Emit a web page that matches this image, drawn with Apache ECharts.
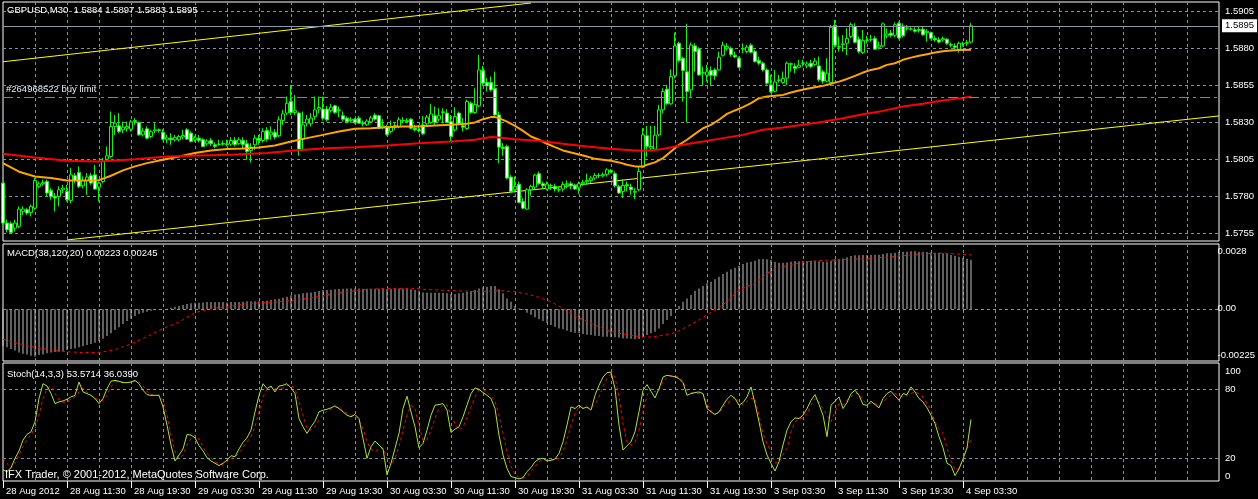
<!DOCTYPE html>
<html><head><meta charset="utf-8">
<script src="https://cdn.jsdelivr.net/npm/echarts@6/dist/echarts.min.js"></script>
<style>html,body{margin:0;padding:0;background:#000;}#c{width:1258px;height:499px;}</style>
</head><body><div id="c"></div>
<script>
// ---------- data ----------
const tickLabels = ['28 Aug 2012','28 Aug 11:30','28 Aug 19:30','29 Aug 03:30','29 Aug 11:30','29 Aug 19:30','30 Aug 03:30','30 Aug 11:30','30 Aug 19:30','31 Aug 03:30','31 Aug 11:30','31 Aug 19:30','3 Sep 03:30','3 Sep 11:30','3 Sep 19:30','4 Sep 03:30'];
const priceTicks = {min: 1.5755, max: 1.5905, step: 0.0025};
const headerText = 'GBPUSD,M30  1.5884 1.5897 1.5883 1.5895';
const macdText = 'MACD(38,120,20) 0.00223 0.00245';
const stochText = 'Stoch(14,3,3) 53.5714 36.0390';
const copyrightText = 'IFX Trader, \u00a9 2001-2012, MetaQuotes Software Corp.';
const orderText = '#264968522 buy limit';
const buyLimit = 1.5847;
const bidPrice = 1.5895;
const macdLabelValues = [-0.00225, 0, 0.0028];
const macdLabelTexts = ['-0.00225', '0.00', '0.0028'];

// [open, high, low, close]
const ohlc = [
[1.57887,1.57891,1.57606,1.57617],[1.57617,1.57640,1.57554,1.57572],[1.57613,1.57628,1.57545,1.57554],[1.57583,1.57640,1.57561,1.57617],[1.57595,1.57730,1.57583,1.57711],
[1.57696,1.57730,1.57673,1.57711],[1.57707,1.57718,1.57673,1.57685],[1.57689,1.57741,1.57662,1.57730],[1.57718,1.57921,1.57707,1.57905],[1.57865,1.57898,1.57853,1.57882],
[1.57882,1.57910,1.57869,1.57891],[1.57898,1.57910,1.57797,1.57820],[1.57838,1.57853,1.57775,1.57797],[1.57797,1.57820,1.57696,1.57786],[1.57797,1.57865,1.57730,1.57842],
[1.57842,1.57876,1.57820,1.57853],[1.57831,1.57876,1.57763,1.57775],[1.57770,1.57988,1.57752,1.57943],[1.57937,1.57955,1.57887,1.57905],[1.57959,1.58000,1.57853,1.57865],
[1.57869,1.57932,1.57853,1.57905],[1.57905,1.57955,1.57808,1.57928],[1.57937,1.57955,1.57876,1.57887],[1.57943,1.58011,1.57842,1.57847],[1.57860,1.57898,1.57763,1.57887],
[1.57898,1.58056,1.57887,1.58033],[1.58049,1.58135,1.58033,1.58072],[1.58067,1.58371,1.58056,1.58270],[1.58270,1.58348,1.58213,1.58292],[1.58274,1.58360,1.58225,1.58236],
[1.58247,1.58303,1.58225,1.58265],[1.58258,1.58303,1.58236,1.58270],[1.58252,1.58315,1.58236,1.58301],[1.58303,1.58326,1.58281,1.58310],[1.58297,1.58303,1.58207,1.58213],
[1.58213,1.58258,1.58202,1.58238],[1.58254,1.58270,1.58184,1.58191],[1.58202,1.58247,1.58191,1.58234],[1.58240,1.58292,1.58225,1.58247],[1.58247,1.58256,1.58229,1.58243],
[1.58231,1.58252,1.58175,1.58184],[1.58180,1.58213,1.58157,1.58193],[1.58191,1.58225,1.58146,1.58180],[1.58180,1.58213,1.58168,1.58195],[1.58180,1.58213,1.58168,1.58202],
[1.58198,1.58247,1.58184,1.58209],[1.58247,1.58258,1.58180,1.58184],[1.58225,1.58236,1.58162,1.58168],[1.58180,1.58207,1.58166,1.58193],[1.58191,1.58213,1.58162,1.58175],
[1.58180,1.58191,1.58130,1.58135],[1.58153,1.58184,1.58139,1.58171],[1.58175,1.58191,1.58139,1.58153],[1.58146,1.58162,1.58123,1.58135],[1.58148,1.58180,1.58139,1.58150],
[1.58150,1.58175,1.58139,1.58155],[1.58153,1.58180,1.58135,1.58148],[1.58150,1.58198,1.58139,1.58175],[1.58175,1.58198,1.58135,1.58148],[1.58153,1.58198,1.58146,1.58180],
[1.58175,1.58198,1.58123,1.58148],[1.58153,1.58180,1.58045,1.58101],[1.58108,1.58157,1.58027,1.58130],[1.58146,1.58213,1.58112,1.58191],[1.58191,1.58213,1.58146,1.58175],
[1.58175,1.58258,1.58162,1.58236],[1.58243,1.58265,1.58168,1.58184],[1.58213,1.58270,1.58180,1.58231],[1.58229,1.58252,1.58184,1.58198],[1.58207,1.58337,1.58198,1.58315],
[1.58310,1.58382,1.58281,1.58355],[1.58360,1.58472,1.58348,1.58427],[1.58438,1.58551,1.58348,1.58364],[1.58364,1.58483,1.58348,1.58378],[1.58360,1.58371,1.58072,1.58117],
[1.58184,1.58371,1.58112,1.58281],[1.58292,1.58348,1.58270,1.58319],[1.58288,1.58360,1.58270,1.58326],[1.58337,1.58472,1.58315,1.58382],[1.58387,1.58472,1.58360,1.58398],
[1.58387,1.58472,1.58310,1.58326],[1.58387,1.58409,1.58303,1.58315],[1.58378,1.58423,1.58364,1.58400],[1.58409,1.58416,1.58355,1.58364],[1.58378,1.58405,1.58333,1.58382],
[1.58342,1.58371,1.58303,1.58319],[1.58326,1.58337,1.58292,1.58301],[1.58310,1.58333,1.58297,1.58319],[1.58319,1.58326,1.58288,1.58297],[1.58326,1.58342,1.58288,1.58292],
[1.58292,1.58310,1.58270,1.58288],[1.58281,1.58319,1.58274,1.58306],[1.58301,1.58342,1.58292,1.58328],[1.58346,1.58360,1.58310,1.58319],[1.58342,1.58348,1.58252,1.58258],
[1.58265,1.58319,1.58252,1.58274],[1.58270,1.58281,1.58207,1.58216],[1.58236,1.58310,1.58225,1.58265],[1.58265,1.58297,1.58247,1.58276],[1.58270,1.58333,1.58258,1.58315],
[1.58310,1.58333,1.58292,1.58306],[1.58303,1.58326,1.58292,1.58310],[1.58319,1.58326,1.58252,1.58258],[1.58258,1.58281,1.58236,1.58247],[1.58247,1.58281,1.58229,1.58240],
[1.58281,1.58342,1.58213,1.58220],[1.58288,1.58348,1.58274,1.58333],[1.58297,1.58423,1.58288,1.58355],[1.58342,1.58405,1.58281,1.58297],[1.58319,1.58393,1.58303,1.58342],
[1.58364,1.58393,1.58292,1.58369],[1.58360,1.58387,1.58292,1.58297],[1.58303,1.58348,1.58168,1.58202],[1.58247,1.58400,1.58236,1.58337],[1.58360,1.58371,1.58281,1.58288],
[1.58274,1.58326,1.58236,1.58265],[1.58256,1.58450,1.58247,1.58438],[1.58427,1.58438,1.58355,1.58364],[1.58364,1.58528,1.58355,1.58418],[1.58409,1.58753,1.58400,1.58652],
[1.58648,1.58679,1.58544,1.58562],[1.58567,1.58596,1.58506,1.58544],[1.58567,1.58607,1.58506,1.58517],[1.58526,1.58641,1.58342,1.58348],[1.58348,1.58371,1.58022,1.58130],
[1.58130,1.58157,1.58072,1.58121],[1.58135,1.58146,1.57914,1.57921],[1.57928,1.57943,1.57820,1.57831],[1.57842,1.57932,1.57824,1.57865],[1.57880,1.57898,1.57752,1.57757],
[1.57763,1.57786,1.57712,1.57718],[1.57712,1.57853,1.57707,1.57842],[1.57842,1.57876,1.57802,1.57865],[1.57860,1.57950,1.57847,1.57941],[1.57950,1.57966,1.57876,1.57883],
[1.57883,1.57898,1.57847,1.57869],[1.57847,1.57898,1.57838,1.57880],[1.57871,1.57883,1.57842,1.57869],[1.57865,1.57883,1.57831,1.57847],[1.57842,1.57865,1.57824,1.57840],
[1.57847,1.57898,1.57831,1.57878],[1.57876,1.57905,1.57853,1.57883],[1.57883,1.57898,1.57847,1.57869],[1.57869,1.57883,1.57842,1.57847],[1.57860,1.57898,1.57815,1.57883],
[1.57883,1.57910,1.57869,1.57892],[1.57896,1.57950,1.57876,1.57905],[1.57905,1.57937,1.57887,1.57921],[1.57921,1.57955,1.57910,1.57939],[1.57939,1.57955,1.57921,1.57937],
[1.57937,1.57959,1.57928,1.57946],[1.57946,1.57988,1.57932,1.57977],[1.57973,1.57982,1.57955,1.57964],[1.57950,1.57966,1.57860,1.57869],[1.57865,1.57876,1.57815,1.57820],
[1.57831,1.57914,1.57786,1.57871],[1.57876,1.57898,1.57831,1.57869],[1.57860,1.57883,1.57808,1.57842],[1.57829,1.57853,1.57779,1.57826],[1.57842,1.58000,1.57831,1.57966],
[1.57995,1.58258,1.57988,1.58213],[1.58207,1.58274,1.58067,1.58135],[1.58123,1.58274,1.58108,1.58135],[1.58117,1.58274,1.58112,1.58211],[1.58213,1.58416,1.58202,1.58382],
[1.58382,1.58528,1.58360,1.58506],[1.58522,1.58551,1.58416,1.58423],[1.58423,1.58657,1.58416,1.58607],[1.58612,1.58904,1.58596,1.58814],[1.58832,1.58843,1.58702,1.58715],
[1.58731,1.58742,1.58438,1.58648],[1.58639,1.58963,1.58297,1.58506],[1.58517,1.58837,1.58468,1.58821],[1.58814,1.58832,1.58641,1.58776],[1.58792,1.58805,1.58612,1.58618],
[1.58630,1.58675,1.58544,1.58634],[1.58616,1.58686,1.58573,1.58639],[1.58648,1.58675,1.58544,1.58616],[1.58652,1.58663,1.58585,1.58612],[1.58652,1.58776,1.58648,1.58738],
[1.58751,1.58843,1.58742,1.58819],[1.58798,1.58832,1.58783,1.58810],[1.58798,1.58810,1.58742,1.58756],[1.58751,1.58776,1.58731,1.58740],[1.58731,1.58742,1.58663,1.58670],
[1.58792,1.58832,1.58765,1.58796],[1.58776,1.58821,1.58765,1.58805],[1.58819,1.58832,1.58765,1.58771],[1.58776,1.58787,1.58702,1.58708],[1.58715,1.58742,1.58686,1.58697],
[1.58697,1.58708,1.58641,1.58652],[1.58652,1.58663,1.58551,1.58562],[1.58551,1.58618,1.58495,1.58504],[1.58508,1.58652,1.58499,1.58571],[1.58580,1.58618,1.58567,1.58585],
[1.58567,1.58641,1.58558,1.58594],[1.58596,1.58708,1.58551,1.58697],[1.58693,1.58702,1.58641,1.58690],[1.58675,1.58697,1.58630,1.58661],[1.58670,1.58720,1.58663,1.58684],
[1.58697,1.58720,1.58675,1.58699],[1.58679,1.58708,1.58663,1.58693],[1.58697,1.58720,1.58663,1.58675],[1.58688,1.58731,1.58679,1.58711],[1.58679,1.58742,1.58573,1.58585],
[1.58639,1.58652,1.58558,1.58576],[1.58576,1.58731,1.58567,1.58630],[1.58567,1.58956,1.58544,1.58940],[1.58954,1.58990,1.58805,1.58819],[1.58805,1.58877,1.58776,1.58810],
[1.58823,1.58888,1.58776,1.58828],[1.58832,1.58933,1.58753,1.58864],[1.58877,1.58972,1.58866,1.58958],[1.58945,1.58967,1.58832,1.58839],[1.58859,1.58877,1.58765,1.58776],
[1.58769,1.58922,1.58760,1.58850],[1.58850,1.58882,1.58832,1.58855],[1.58855,1.58888,1.58843,1.58857],[1.58864,1.58882,1.58787,1.58792],[1.58805,1.58843,1.58792,1.58816],
[1.58814,1.58972,1.58805,1.58963],[1.58882,1.58933,1.58866,1.58895],[1.58900,1.58922,1.58873,1.58886],[1.58886,1.58972,1.58873,1.58958],[1.58967,1.58978,1.58859,1.58868],
[1.58949,1.58967,1.58873,1.58882],[1.58931,1.58956,1.58918,1.58936],[1.58927,1.58945,1.58918,1.58929],[1.58922,1.58940,1.58904,1.58913],[1.58918,1.58945,1.58904,1.58925],
[1.58927,1.58945,1.58882,1.58889],[1.58904,1.58927,1.58843,1.58913],[1.58904,1.58911,1.58859,1.58866],[1.58864,1.58882,1.58843,1.58855],[1.58855,1.58873,1.58832,1.58841],
[1.58855,1.58877,1.58843,1.58864],[1.58859,1.58866,1.58821,1.58832],[1.58823,1.58837,1.58805,1.58819],[1.58814,1.58832,1.58792,1.58805],[1.58792,1.58843,1.58769,1.58832],
[1.58828,1.58843,1.58810,1.58832],[1.58832,1.58855,1.58814,1.58837],[1.5884,1.5897,1.5883,1.5895]
];

// moving averages: [bar index, value]
const maFast = [[0,1.58022],[4,1.57964],[8,1.57932],[12,1.57921],[16,1.57905],[20,1.57905],[24,1.57907],[27,1.57937],[30,1.57973],[33,1.58000],[36,1.58022],[40,1.58045],[44,1.58067],[48,1.58090],[52,1.58108],[56,1.58117],[60,1.58121],[64,1.58128],[68,1.58141],[72,1.58168],[76,1.58191],[80,1.58213],[84,1.58236],[88,1.58254],[92,1.58258],[96,1.58265],[100,1.58270],[104,1.58270],[108,1.58276],[112,1.58281],[116,1.58288],[118,1.58297],[120,1.58319],[122,1.58333],[123,1.58333],[124,1.58326],[126,1.58303],[128,1.58274],[130,1.58240],[132,1.58202],[134,1.58180],[136,1.58153],[138,1.58130],[140,1.58108],[142,1.58094],[144,1.58081],[146,1.58067],[148,1.58051],[150,1.58045],[152,1.58038],[154,1.58027],[156,1.58011],[158,1.58000],[160,1.58000],[161,1.58011],[163,1.58027],[165,1.58056],[167,1.58101],[169,1.58146],[171,1.58180],[173,1.58220],[175,1.58258],[177,1.58281],[179,1.58315],[181,1.58355],[183,1.58378],[185,1.58400],[187,1.58427],[189,1.58461],[191,1.58472],[193,1.58477],[195,1.58483],[197,1.58499],[199,1.58513],[201,1.58524],[203,1.58535],[205,1.58544],[207,1.58558],[209,1.58573],[211,1.58591],[213,1.58612],[215,1.58634],[217,1.58652],[219,1.58663],[221,1.58686],[223,1.58697],[225,1.58720],[227,1.58735],[229,1.58747],[231,1.58758],[233,1.58769],[235,1.58778],[237,1.58783],[239,1.58787],[242,1.58789]];
const maSlow = [[0,1.58085],[8,1.58060],[16,1.58038],[24,1.58033],[33,1.58049],[41,1.58067],[49,1.58074],[57,1.58078],[62,1.58085],[66,1.58090],[72,1.58105],[79,1.58119],[81,1.58123],[88,1.58130],[96,1.58141],[104,1.58157],[112,1.58168],[118,1.58180],[122,1.58198],[124,1.58195],[128,1.58184],[134,1.58173],[140,1.58153],[146,1.58135],[152,1.58119],[158,1.58108],[162,1.58108],[165,1.58117],[170,1.58146],[175,1.58168],[180,1.58191],[185,1.58213],[190,1.58247],[195,1.58263],[200,1.58281],[205,1.58301],[210,1.58326],[215,1.58353],[220,1.58375],[225,1.58405],[230,1.58423],[235,1.58445],[240,1.58463],[242,1.58472]];
// channel trend lines: [bar index, price] end points
const channelUpper = [[0,1.58707],[132,1.59104]];
const channelLower = [[16,1.57503],[304,1.58341]];

const macdHist = [
-0.00165,-0.00171,-0.00179,-0.00186,-0.00194,-0.00200,-0.00204,-0.00209,-0.00213,-0.00206,
-0.00203,-0.00198,-0.00195,-0.00192,-0.00191,-0.00188,-0.00183,-0.00179,-0.00176,-0.00171,
-0.00165,-0.00161,-0.00156,-0.00150,-0.00143,-0.00132,-0.00120,-0.00108,-0.00093,-0.00081,
-0.00066,-0.00053,-0.00042,-0.00030,-0.00021,-0.00015,-0.00011,-0.00006,-0.00003,-0.00002,
-0.00001,0.00003,0.00007,0.00012,0.00015,0.00019,0.00024,0.00027,0.00030,0.00030,
0.00031,0.00033,0.00033,0.00033,0.00033,0.00033,0.00031,0.00033,0.00033,0.00033,
0.00034,0.00036,0.00036,0.00036,0.00036,0.00037,0.00039,0.00042,0.00045,0.00048,
0.00052,0.00057,0.00063,0.00067,0.00069,0.00072,0.00075,0.00076,0.00079,0.00082,
0.00087,0.00087,0.00088,0.00090,0.00091,0.00093,0.00094,0.00094,0.00094,0.00094,
0.00093,0.00093,0.00093,0.00093,0.00093,0.00093,0.00091,0.00093,0.00094,0.00094,
0.00094,0.00093,0.00090,0.00087,0.00084,0.00076,0.00075,0.00075,0.00075,0.00075,
0.00073,0.00072,0.00070,0.00069,0.00072,0.00075,0.00078,0.00082,0.00087,0.00094,
0.00099,0.00102,0.00105,0.00105,0.00090,0.00072,0.00049,0.00034,0.00015,0.00004,
-0.00003,-0.00015,-0.00025,-0.00036,-0.00045,-0.00053,-0.00060,-0.00071,-0.00078,-0.00086,
-0.00090,-0.00096,-0.00102,-0.00105,-0.00108,-0.00111,-0.00114,-0.00116,-0.00119,-0.00120,
-0.00123,-0.00123,-0.00126,-0.00126,-0.00128,-0.00131,-0.00131,-0.00132,-0.00135,-0.00134,
-0.00126,-0.00116,-0.00108,-0.00101,-0.00086,-0.00066,-0.00048,-0.00030,0.00001,0.00015,
0.00034,0.00049,0.00064,0.00084,0.00094,0.00105,0.00117,0.00124,0.00135,0.00147,
0.00159,0.00169,0.00180,0.00187,0.00195,0.00204,0.00211,0.00214,0.00219,0.00225,
0.00226,0.00225,0.00222,0.00214,0.00210,0.00210,0.00211,0.00214,0.00217,0.00216,
0.00217,0.00217,0.00219,0.00217,0.00216,0.00214,0.00213,0.00219,0.00225,0.00225,
0.00229,0.00234,0.00240,0.00243,0.00243,0.00244,0.00244,0.00244,0.00246,0.00246,
0.00249,0.00252,0.00252,0.00255,0.00258,0.00259,0.00259,0.00261,0.00261,0.00259,
0.00259,0.00258,0.00256,0.00255,0.00255,0.00252,0.00249,0.00244,0.00241,0.00237,
0.00232,0.00228,0.00223];
const macdSignal = [[0,-0.00135],[3,-0.00150],[8,-0.00171],[12,-0.00183],[16,-0.00191],[20,-0.00195],[24,-0.00194],[28,-0.00182],[32,-0.00156],[36,-0.00123],[40,-0.00087],[44,-0.00057],[48,-0.00015],[52,0.00003],[57,0.00015],[61,0.00025],[65,0.00030],[69,0.00034],[73,0.00042],[78,0.00054],[82,0.00069],[86,0.00079],[90,0.00087],[94,0.00093],[99,0.00094],[104,0.00094],[105,0.00090],[112,0.00084],[121,0.00079],[124,0.00084],[128,0.00079],[131,0.00069],[134,0.00054],[137,0.00034],[141,-0.00006],[144,-0.00038],[148,-0.00071],[151,-0.00093],[154,-0.00108],[158,-0.00120],[161,-0.00126],[164,-0.00120],[168,-0.00105],[171,-0.00078],[174,-0.00048],[178,-0.00003],[181,0.00034],[184,0.00087],[188,0.00117],[191,0.00162],[194,0.00189],[198,0.00204],[201,0.00214],[204,0.00219],[208,0.00222],[217,0.00229],[225,0.00241],[230,0.00250],[235,0.00253],[242,0.00245]];

const stochMain = [
9.6,8.2,11.6,19.7,26.1,35.6,40.5,42.8,51.5,71.7,
84.6,82.6,76.0,67.3,68.8,69.6,71.1,73.1,74.5,86.1,
77.4,76.0,74.5,71.7,67.3,71.7,80.3,86.7,87.5,86.7,
85.5,85.5,86.1,87.5,84.6,78.9,75.1,74.5,74.5,74.5,
64.4,48.6,31.3,17.4,22.6,27.8,40.5,39.9,37.6,30.7,
26.1,20.3,17.4,15.4,13.4,15.4,18.3,22.0,21.1,27.8,
33.6,37.6,44.2,60.1,74.5,84.6,80.3,82.6,77.4,82.6,
83.2,84.6,80.9,76.0,54.3,47.1,41.4,47.1,52.0,60.1,
61.6,62.4,63.6,65.3,63.0,60.1,57.2,55.8,57.8,54.3,
37.0,19.7,29.8,34.7,31.3,27.8,5.3,15.4,28.4,41.4,
63.0,73.7,60.1,47.1,28.9,32.7,44.2,57.2,65.9,66.5,
67.3,61.6,42.2,45.1,47.1,55.8,65.9,76.0,80.9,79.7,
76.9,74.5,71.7,63.0,39.9,22.6,11.0,3.8,3.0,1.8,
3.0,8.2,11.6,16.8,19.1,19.7,17.4,18.0,19.1,24.0,
34.1,48.6,64.4,63.0,65.9,63.0,64.4,61.6,74.5,83.2,
90.4,94.2,94.7,80.3,48.6,26.9,30.7,34.1,42.8,60.1,
78.9,83.8,78.0,72.2,80.3,90.4,91.9,91.3,90.7,89.0,
85.5,74.5,76.0,76.9,77.4,76.0,63.0,60.1,57.8,60.1,
65.9,71.1,74.5,71.7,65.9,68.2,73.1,81.8,67.3,51.5,
34.1,22.6,15.4,8.7,16.8,31.3,44.2,51.5,54.9,54.3,
57.2,63.0,70.2,75.1,66.5,57.2,38.5,65.9,69.3,73.1,
63.0,68.2,76.0,78.9,74.5,66.5,65.9,69.3,66.5,63.6,
71.7,76.0,78.0,74.0,70.2,76.0,75.1,81.8,77.4,71.7,
68.8,63.6,57.2,50.0,38.5,28.9,15.4,13.4,4.7,10.5,
19.1,28.9,53.5714];
const stochSignal = [
19.7,15.4,11.0,15.4,22.6,29.8,35.6,40.5,45.7,57.2,
71.7,80.3,82.6,76.0,71.1,68.2,69.3,71.1,73.1,77.4,
80.9,77.4,74.5,72.2,70.2,70.2,74.5,81.8,86.1,86.7,
86.1,85.5,86.1,86.7,86.1,82.6,78.0,75.1,74.5,74.5,
70.2,57.2,39.9,25.5,19.7,22.6,31.3,37.0,39.9,36.4,
29.8,24.0,19.7,16.8,14.5,14.5,16.8,19.1,21.1,24.0,
28.9,34.1,38.5,47.1,60.1,73.1,80.3,81.8,80.3,80.3,
80.9,83.2,83.2,80.3,68.8,57.2,45.7,44.2,47.1,52.9,
57.8,60.7,62.4,63.6,64.4,60.7,58.7,57.2,57.2,52.9,
45.7,34.1,27.8,25.5,27.8,28.9,19.7,13.9,19.7,29.8,
44.2,57.2,65.9,63.0,48.6,35.6,35.6,44.2,54.3,63.0,
65.9,65.9,57.2,50.0,44.2,47.1,54.9,64.4,73.1,78.9,
79.7,76.9,74.0,69.3,57.2,41.4,25.5,12.5,5.9,3.0,
2.4,3.8,8.2,12.5,16.8,18.3,18.3,18.3,18.3,19.7,
25.5,35.6,48.6,58.7,64.4,63.6,63.6,63.0,66.5,73.1,
82.6,89.0,93.3,90.4,73.1,50.0,34.1,31.3,33.6,44.2,
60.1,74.5,80.3,77.4,78.9,86.1,90.4,91.3,91.3,90.4,
86.1,78.9,76.9,76.0,76.0,76.0,67.3,60.7,58.7,58.7,
64.4,67.3,70.2,73.1,68.8,66.5,69.3,71.7,71.7,57.2,
41.4,32.7,25.5,15.4,16.8,22.6,28.4,42.8,51.5,53.8,
54.9,58.7,65.9,71.7,68.8,63.0,57.2,51.5,60.1,67.3,
65.9,70.2,73.1,76.0,76.0,70.2,67.3,67.3,67.3,65.9,
68.8,71.7,74.5,76.0,74.5,73.1,74.5,76.0,77.4,76.0,
73.1,67.3,61.6,51.5,45.7,41.4,28.4,18.3,9.6,11.0,
18.3,28.4,36.039];

// ---------- layout / styling ----------
const SLOTS = 305;           // bars + empty chart shift to the right
const LABEL_EVERY = 16;      // bars between time labels
const GRID_EVERY = 8;        // bars between vertical grid lines
const FONT = '"Liberation Sans", Arial, sans-serif';
const TXT = '#ffffff';
const GRIDC = '#8090a0';
const L = 3, R = 39;

const slots = Array.from({length: SLOTS}, (_, i) => String(i));
const lastBar = ohlc.length - 1;
const candleData = ohlc.map(d => [d[0], d[3], d[2], d[1]]);

function catX(gridIndex, showLabels) {
  return {
    type: 'category', gridIndex, data: slots, boundaryGap: false,
    axisLine: {show: false},
    axisTick: showLabels ? {show: true, length: 7, lineStyle: {color: TXT}, interval: (i) => i % LABEL_EVERY === 0 && i <= lastBar} : {show: false},
    axisLabel: showLabels ? {
      show: true, color: TXT, fontSize: 9.5, fontFamily: FONT, align: 'left', margin: 5, padding: [0, 0, 0, 3],
      interval: (i) => i % LABEL_EVERY === 0 && i <= lastBar,
      formatter: (v, i) => tickLabels[i / LABEL_EVERY] || ''
    } : {show: false},
    splitLine: {show: true, interval: (i) => i % GRID_EVERY === 0 && i > 0 && i < SLOTS - 1,
      lineStyle: {color: GRIDC, type: [3, 3], width: 1}}
  };
}
function hiddenX(gridIndex) {
  return {type: 'value', gridIndex, min: 0, max: 1, show: false};
}

const chart = echarts.init(document.getElementById('c'), null, {renderer: 'canvas'});
chart.setOption({
  backgroundColor: '#000',
  animation: false,
  title: [
    {text: headerText, left: 7, top: 5, padding: 0, textStyle: {color: TXT, fontSize: 9.5, fontWeight: 'normal', fontFamily: FONT}},
    {text: macdText, left: 7, top: 248, padding: 0, textStyle: {color: TXT, fontSize: 9.5, fontWeight: 'normal', fontFamily: FONT}},
    {text: stochText, left: 7, top: 369, padding: 0, textStyle: {color: TXT, fontSize: 9.5, fontWeight: 'normal', fontFamily: FONT}},
    {text: copyrightText, left: 5, top: 469, padding: 0, textStyle: {color: TXT, fontSize: 11, fontWeight: 'normal', fontFamily: FONT}}
  ],
  grid: [
    {left: L, right: R, top: 2, height: 239, show: true, borderColor: '#fff', borderWidth: 1, backgroundColor: 'transparent'},
    {left: L, right: R, top: 11, height: 222, show: false},
    {left: L, right: R, top: 244, height: 117, show: true, borderColor: '#fff', borderWidth: 1, backgroundColor: 'transparent'},
    {left: L, right: R, top: 251, height: 104, show: false},
    {left: L, right: R, top: 363, height: 118, show: true, borderColor: '#fff', borderWidth: 1, backgroundColor: 'transparent'},
    {left: L, right: R, top: 389, height: 69, show: false},
    {left: L, right: R, top: 371, height: 105, show: false}
  ],
  xAxis: [catX(0, false), hiddenX(1), catX(2, false), hiddenX(3), catX(4, true), hiddenX(5), hiddenX(6)],
  yAxis: [
    {type: 'value', gridIndex: 0, min: 1.574959, max: 1.591108, show: false, splitLine: {show: false}},
    {type: 'value', gridIndex: 1, position: 'right', min: priceTicks.min, max: priceTicks.max, interval: priceTicks.step,
      axisLine: {show: false}, axisTick: {show: false},
      axisLabel: {color: TXT, fontSize: 9.5, fontFamily: FONT, margin: 6, formatter: v => v.toFixed(4)},
      splitLine: {show: true, lineStyle: {color: GRIDC, type: [3, 3], width: 1}}},
    {type: 'value', gridIndex: 2, min: -0.002327, max: 0.002939, show: false, splitLine: {show: false}},
    {type: 'value', gridIndex: 3, position: 'right', min: macdLabelValues[0], max: macdLabelValues[2],
      axisLine: {show: false}, axisTick: {show: false}, splitLine: {show: false},
      axisLabel: {color: TXT, fontSize: 9.5, fontFamily: FONT, margin: 6, customValues: macdLabelValues, showMinLabel: true, showMaxLabel: true,
        formatter: v => { const k = macdLabelValues.findIndex(x => Math.abs(x - v) < 1e-9); return k >= 0 ? macdLabelTexts[k] : ''; }}},
    {type: 'value', gridIndex: 4, min: 0, max: 102.6, show: false, splitLine: {show: false}},
    {type: 'value', gridIndex: 5, position: 'right', min: 20, max: 80, interval: 60,
      axisLine: {show: false}, axisTick: {show: false},
      axisLabel: {color: TXT, fontSize: 9.5, fontFamily: FONT, margin: 6},
      splitLine: {show: true, lineStyle: {color: GRIDC, type: [3, 3], width: 1}}},
    {type: 'value', gridIndex: 6, position: 'right', min: 0, max: 100, interval: 100,
      axisLine: {show: false}, axisTick: {show: false}, splitLine: {show: false},
      axisLabel: {color: TXT, fontSize: 9.5, fontFamily: FONT, margin: 6}}
  ],
  series: [
    {type: 'line', name: 'channelUpper', xAxisIndex: 0, yAxisIndex: 0, data: channelUpper, showSymbol: false, silent: true,
      lineStyle: {color: '#ffff00', width: 1}, z: 2,
      markLine: {silent: true, symbol: ['none', 'none'], animation: false, precision: 5,
        lineStyle: {color: '#3cb83c', type: [10, 4, 3, 4], width: 1, opacity: 1},
        label: {show: true, position: 'insideStartTop', formatter: orderText, color: '#e6eef8', fontSize: 9.5, fontFamily: FONT, distance: [3, 2]},
        data: [{yAxis: buyLimit}]}},
    {type: 'line', name: 'channelLower', xAxisIndex: 0, yAxisIndex: 0, data: channelLower, showSymbol: false, silent: true,
      lineStyle: {color: '#ffff00', width: 1}, z: 2},
    {type: 'candlestick', name: 'GBPUSD', xAxisIndex: 0, yAxisIndex: 0, data: candleData, barWidth: 3,
      itemStyle: {color: '#000000', color0: '#ffffff', borderColor: '#00ff00', borderColor0: '#00ff00', borderWidth: 1}, z: 3,
      markLine: {silent: true, symbol: ['none', 'none'], animation: false, precision: 5,
        lineStyle: {color: '#8a99a8', type: 'solid', width: 1},
        label: {show: true, position: 'end', formatter: bidPrice.toFixed(4), color: '#000', backgroundColor: '#fff', fontSize: 9.5, fontFamily: FONT, padding: [2, 3, 1, 3], distance: 3},
        data: [{yAxis: bidPrice}]}},
    {type: 'line', name: 'maFast', xAxisIndex: 0, yAxisIndex: 0, data: maFast, showSymbol: false, silent: true,
      lineStyle: {color: '#ffa500', width: 2}, z: 4},
    {type: 'line', name: 'maSlow', xAxisIndex: 0, yAxisIndex: 0, data: maSlow, showSymbol: false, silent: true,
      lineStyle: {color: '#ff0000', width: 2}, z: 4},
    {type: 'bar', name: 'MACD', xAxisIndex: 2, yAxisIndex: 2, data: macdHist, barWidth: 1, silent: true,
      itemStyle: {color: '#c0c0c0'},
      markLine: {silent: true, symbol: ['none', 'none'], label: {show: false}, precision: 6,
        data: [{yAxis: 0}], lineStyle: {color: GRIDC, type: [3, 3], width: 1}}},
    {type: 'line', name: 'Signal', xAxisIndex: 2, yAxisIndex: 2, data: macdSignal, showSymbol: false, silent: true,
      lineStyle: {color: '#ff0000', width: 1, type: [3, 3]}, z: 4},
    {type: 'line', name: 'StochMain', xAxisIndex: 4, yAxisIndex: 4, data: stochMain, showSymbol: false, silent: true,
      lineStyle: {color: '#a6e635', width: 1}, z: 4},
    {type: 'line', name: 'StochSignal', xAxisIndex: 4, yAxisIndex: 4, data: stochSignal, showSymbol: false, silent: true,
      lineStyle: {color: '#ff0000', width: 1, type: [3, 3]}, z: 3}
  ]
});
</script>
</body></html>
